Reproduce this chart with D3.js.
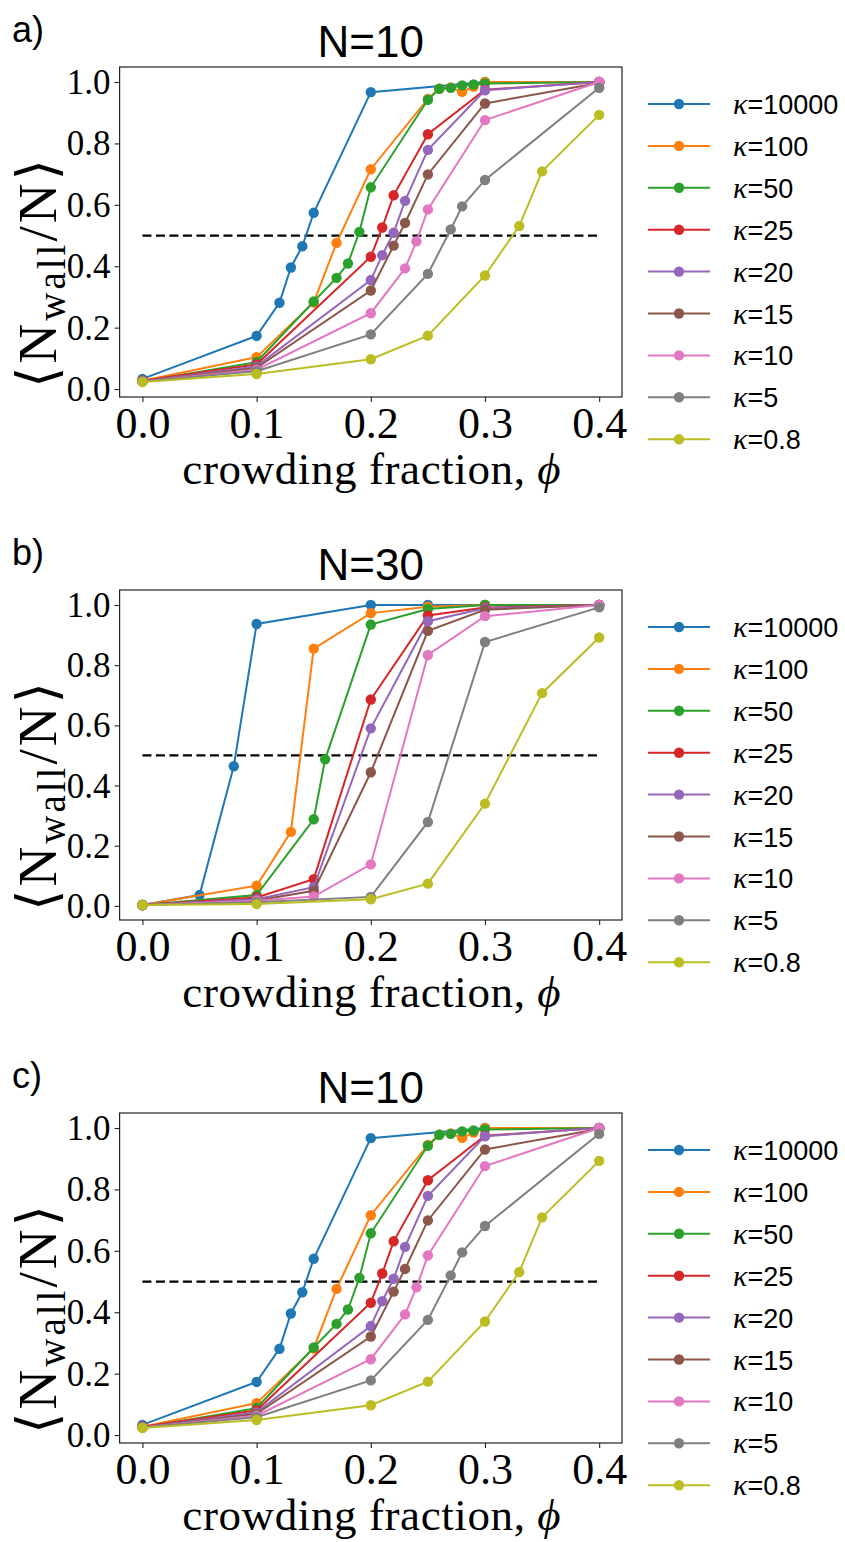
<!DOCTYPE html>
<html>
<head>
<meta charset="utf-8">
<script src="https://cdn.jsdelivr.net/npm/d3@7"></script>
<style>
  body { margin: 0; background: #fff; }
  svg { display: block; }
  .tick text { font-family: 'Liberation Serif', 'DejaVu Serif', serif; }
</style>
</head>
<body>
<div id="chart"></div>
<script>
// Legend labels and colours (matplotlib tab10)
const kappas = ["10000", "100", "50", "25", "20", "15", "10", "5", "0.8"];
const colors = ["#1f77b4", "#ff7f0e", "#2ca02c", "#d62728", "#9467bd",
                "#8c564b", "#e377c2", "#7f7f7f", "#bcbd22"];

const xTicks = [0, 0.1, 0.2, 0.3, 0.4];
const yTicks = [0, 0.2, 0.4, 0.6, 0.8, 1.0];

// N = 10 : crowding fraction per curve
const phiN10 = [
  [0, 0.1, 0.12, 0.13, 0.14, 0.15, 0.2, 0.3, 0.4],
  [0, 0.1, 0.15, 0.17, 0.2, 0.25, 0.26, 0.27, 0.28, 0.29, 0.3, 0.4],
  [0, 0.1, 0.15, 0.17, 0.18, 0.19, 0.2, 0.25, 0.26, 0.27, 0.28, 0.29, 0.3, 0.4],
  [0, 0.1, 0.2, 0.21, 0.22, 0.25, 0.3, 0.4],
  [0, 0.1, 0.2, 0.21, 0.22, 0.23, 0.25, 0.3, 0.4],
  [0, 0.1, 0.2, 0.22, 0.23, 0.25, 0.3, 0.4],
  [0, 0.1, 0.2, 0.23, 0.24, 0.25, 0.3, 0.4],
  [0, 0.1, 0.2, 0.25, 0.27, 0.28, 0.3, 0.4],
  [0, 0.1, 0.2, 0.25, 0.3, 0.33, 0.35, 0.4]
];
// N = 10 : <N_wall/N>
const wallN10 = [
  [0.033, 0.173, 0.281, 0.396, 0.465, 0.574, 0.967, 1.0, 1.0],
  [0.027, 0.104, 0.282, 0.476, 0.716, 0.945, 0.978, 0.982, 0.968, 0.985, 1.0, 1.0],
  [0.025, 0.088, 0.285, 0.362, 0.409, 0.512, 0.657, 0.942, 0.978, 0.981, 0.989, 0.992, 0.995, 1.0],
  [0.027, 0.080, 0.431, 0.526, 0.631, 0.830, 0.975, 1.0],
  [0.025, 0.074, 0.355, 0.436, 0.509, 0.613, 0.779, 0.973, 1.0],
  [0.025, 0.069, 0.321, 0.467, 0.541, 0.699, 0.930, 0.997],
  [0.025, 0.063, 0.247, 0.393, 0.481, 0.585, 0.876, 1.0],
  [0.025, 0.058, 0.178, 0.375, 0.520, 0.595, 0.681, 0.981],
  [0.023, 0.049, 0.097, 0.174, 0.370, 0.531, 0.709, 0.893]
];

// N = 30
const phiN30 = [
  [0, 0.05, 0.08, 0.1, 0.2, 0.25, 0.3, 0.4],
  [0, 0.1, 0.13, 0.15, 0.2, 0.25, 0.3, 0.4],
  [0, 0.1, 0.15, 0.16, 0.2, 0.25, 0.3, 0.4],
  [0, 0.1, 0.15, 0.2, 0.25, 0.3, 0.4],
  [0, 0.1, 0.15, 0.2, 0.25, 0.3, 0.4],
  [0, 0.1, 0.15, 0.2, 0.25, 0.3, 0.4],
  [0, 0.1, 0.15, 0.2, 0.25, 0.3, 0.4],
  [0, 0.1, 0.2, 0.25, 0.3, 0.4],
  [0, 0.1, 0.2, 0.25, 0.3, 0.35, 0.4]
];
const wallN30 = [
  [0.003, 0.036, 0.464, 0.937, 1.0, 1.0, 1.0, 1.0],
  [0.003, 0.067, 0.246, 0.855, 0.973, 0.994, 1.0, 1.0],
  [0.003, 0.036, 0.288, 0.487, 0.935, 0.987, 1.0, 1.0],
  [0.003, 0.028, 0.089, 0.686, 0.965, 0.992, 1.0],
  [0.003, 0.022, 0.062, 0.590, 0.946, 0.989, 1.0],
  [0.003, 0.018, 0.050, 0.444, 0.914, 0.984, 1.0],
  [0.003, 0.017, 0.031, 0.138, 0.834, 0.963, 1.0],
  [0.003, 0.012, 0.030, 0.279, 0.877, 0.992],
  [0.003, 0.006, 0.022, 0.074, 0.340, 0.707, 0.892]
];

const panels = [
  { label: "a)", title: "N=10", phi: phiN10, wall: wallN10, dy: 0 },
  { label: "b)", title: "N=30", phi: phiN30, wall: wallN30, dy: 523 },
  { label: "c)", title: "N=10", phi: phiN10, wall: wallN10, dy: 1046 }
];

const W = 845, H = 1542;
const serif = "'Liberation Serif', 'DejaVu Serif', serif";
const sans = "'Liberation Sans', 'DejaVu Sans', sans-serif";

const svg = d3.select('#chart').append('svg')
    .attr('width', W)
    .attr('height', H);
svg.append('rect').attr('width', W).attr('height', H).attr('fill', '#fff');

// plot frame in pixels (same for each panel, shifted by dy)
const frame = { left: 119.6, right: 622, top: 67, bottom: 397 };

function drawPanel(p) {
    const g = svg.append('g').attr('transform', `translate(0,${p.dy})`);

    // matplotlib-like 5% margins
    const allY = d3.merge(p.wall);
    const yMin = d3.min(allY), yMax = d3.max(allY);
    const yPad = (yMax - yMin) * 0.05;

    const x = d3.scaleLinear().domain([-0.02, 0.42]).range([frame.left, frame.right]);
    const y = d3.scaleLinear().domain([yMin - yPad, yMax + yPad]).range([frame.bottom, frame.top]);

    // panel letter and title
    g.append('text')
        .attr('x', 12).attr('y', 42)
        .style('font-family', sans).style('font-size', '36px')
        .text(p.label);
    g.append('text')
        .attr('x', (frame.left + frame.right) / 2).attr('y', 57)
        .attr('text-anchor', 'middle')
        .style('font-family', sans).style('font-size', '44px')
        .text(p.title);

    // dashed 0.5 line
    g.append('line')
        .attr('x1', x(0)).attr('x2', x(0.4))
        .attr('y1', y(0.5)).attr('y2', y(0.5))
        .attr('stroke', '#000').attr('stroke-width', 2.2)
        .attr('stroke-dasharray', '9,4.5');

    const line = d3.line().x(d => x(d[0])).y(d => y(d[1]));

    p.phi.forEach((phis, i) => {
        const pts = phis.map((v, j) => [v, p.wall[i][j]]);
        const s = g.append('g');
        s.append('path')
            .attr('d', line(pts))
            .attr('fill', 'none')
            .attr('stroke', colors[i])
            .attr('stroke-width', 2);
        s.selectAll('circle').data(pts).enter().append('circle')
            .attr('cx', d => x(d[0])).attr('cy', d => y(d[1]))
            .attr('r', 5.2)
            .attr('fill', colors[i]);
    });

    // axes
    const xAxis = d3.axisBottom(x).tickValues(xTicks).tickSize(5).tickFormat(d3.format('.1f'));
    const yAxis = d3.axisLeft(y).tickValues(yTicks).tickSize(5).tickFormat(d3.format('.1f'));

    const gx = g.append('g').attr('transform', `translate(0,${frame.bottom})`).call(xAxis);
    gx.attr('font-family', serif).attr('font-size', 44);
    gx.select('.domain').remove();
    gx.selectAll('line').attr('stroke', '#222').attr('stroke-width', 1.1);
    gx.selectAll('text')
        .attr('y', 41).attr('dy', null)
        .attr('fill', '#000');

    const gy = g.append('g').attr('transform', `translate(${frame.left},0)`).call(yAxis);
    gy.attr('font-family', serif).attr('font-size', 35);
    gy.select('.domain').remove();
    gy.selectAll('line').attr('stroke', '#222').attr('stroke-width', 1.1);
    gy.selectAll('text')
        .attr('x', -9).attr('dy', '0.33em')
        .attr('fill', '#000');

    g.append('rect')
        .attr('x', frame.left).attr('y', frame.top)
        .attr('width', frame.right - frame.left).attr('height', frame.bottom - frame.top)
        .attr('fill', 'none').attr('stroke', '#222').attr('stroke-width', 1.2);

    // x label
    const xl = g.append('text')
        .attr('x', (frame.left + frame.right) / 2 + 1).attr('y', 484)
        .attr('text-anchor', 'middle')
        .style('font-family', serif).style('font-size', '45px')
        .style('letter-spacing', '0.6px');
    xl.append('tspan').text('crowding fraction, ');
    xl.append('tspan').style('font-style', 'italic').text('\u03d5');

    // y label
    const yl = g.append('text')
        .attr('transform', `translate(56,272) rotate(-90)`)
        .attr('text-anchor', 'middle')
        .style('font-family', serif).style('font-size', '55px')
        .style('letter-spacing', '3px');
    yl.append('tspan').style('font-weight', '300').text('\u27e8');
    yl.append('tspan').text('N');
    yl.append('tspan').attr('dy', 9).style('font-size', '39px').text('wall');
    yl.append('tspan').attr('dy', -9).text('/N');
    yl.append('tspan').style('font-weight', '300').text('\u27e9');

    // legend
    const lg = g.append('g');
    kappas.forEach((k, i) => {
        const ly = frame.top + 37 + i * 41.9;
        lg.append('line')
            .attr('x1', 648).attr('x2', 710).attr('y1', ly).attr('y2', ly)
            .attr('stroke', colors[i]).attr('stroke-width', 2);
        lg.append('circle')
            .attr('cx', 679).attr('cy', ly).attr('r', 5.2).attr('fill', colors[i]);
        const t = lg.append('text').attr('x', 733).attr('y', ly + 10);
        t.append('tspan')
            .style('font-family', serif).style('font-style', 'italic').style('font-size', '30px')
            .text('\u03ba');
        t.append('tspan')
            .style('font-family', sans).style('font-size', '27px')
            .text('=' + k);
    });
}

panels.forEach(drawPanel);
</script>
</body>
</html>
